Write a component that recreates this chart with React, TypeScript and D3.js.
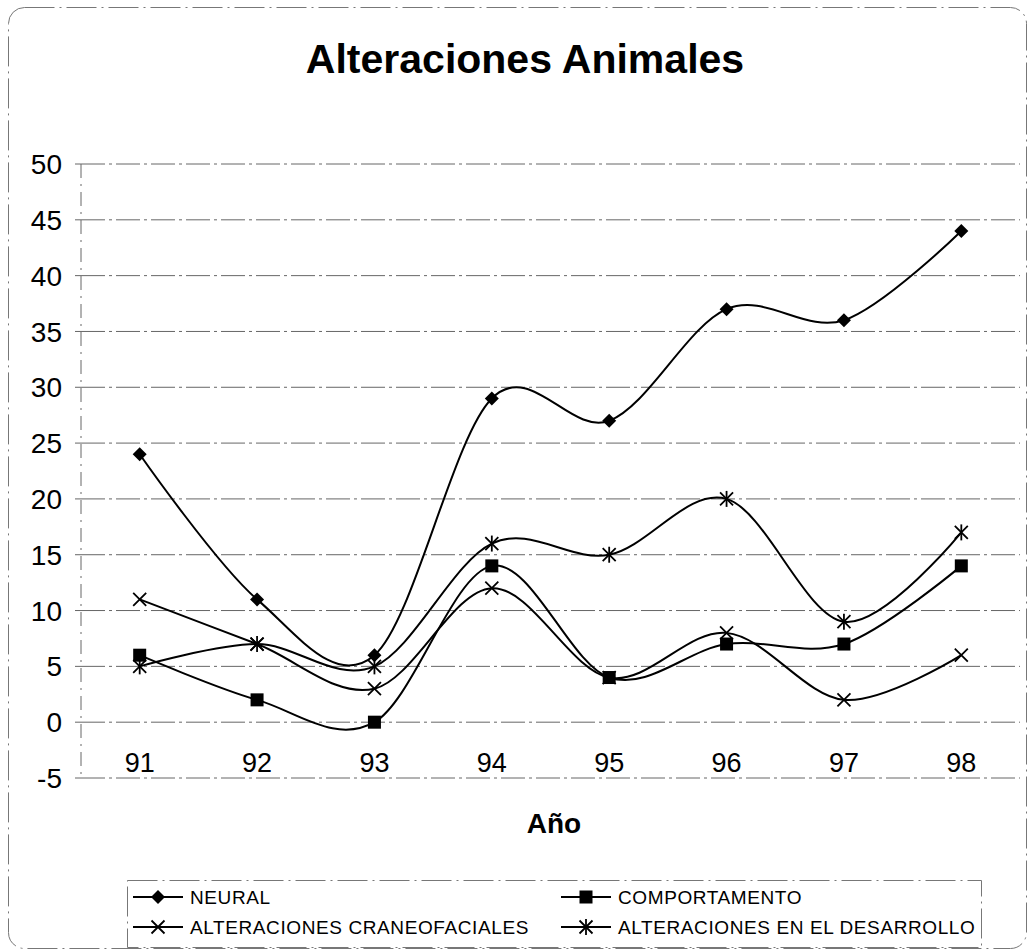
import { useEffect, useRef } from "react";
import * as d3 from "d3";

const years = ["91", "92", "93", "94", "95", "96", "97", "98"];
const neural = [24, 11, 6, 29, 27, 37, 36, 44];
const comportamento = [6, 2, 0, 14, 4, 7, 7, 14];
const craneofaciales = [11, 7, 3, 12, 4, 8, 2, 6];
const desarrollo = [5, 7, 5, 16, 15, 20, 9, 17];
const yTicks = [-5, 0, 5, 10, 15, 20, 25, 30, 35, 40, 45, 50];

const seriesNames = [
  "NEURAL",
  "COMPORTAMENTO",
  "ALTERACIONES CRANEOFACIALES",
  "ALTERACIONES EN EL DESARROLLO",
];
const seriesMarkers = ["diamond", "square", "cross", "star"];

const font = "'Liberation Sans', Arial, sans-serif";
const gridDash = "24 4 3 4";

const App = () => {
  const ref = useRef<SVGSVGElement>(null);

  useEffect(() => {
    const svg = d3.select(ref.current);
    svg.selectAll("*").remove();

    const x = d3.scalePoint().domain(years).range([81, 1020]).padding(0.5);
    const y = d3.scaleLinear().domain([-5, 50]).range([778, 164]);

    // outer frame
    svg
      .append("rect")
      .attr("x", 8.5)
      .attr("y", 7.5)
      .attr("width", 1018)
      .attr("height", 941)
      .attr("rx", 16)
      .attr("fill", "none")
      .attr("stroke", "#777")
      .attr("stroke-dasharray", "30 5 2 5");

    svg
      .append("text")
      .attr("x", 525)
      .attr("y", 73)
      .attr("text-anchor", "middle")
      .attr("font-family", font)
      .attr("font-weight", "bold")
      .attr("font-size", 41)
      .text("Alteraciones Animales");

    // gridlines
    yTicks.forEach((t) => {
      svg
        .append("line")
        .attr("x1", 81)
        .attr("x2", 1020)
        .attr("y1", y(t))
        .attr("y2", y(t))
        .attr("stroke", "#666")
        .attr("stroke-dasharray", gridDash);
      svg
        .append("line")
        .attr("x1", 75)
        .attr("x2", 81)
        .attr("y1", y(t))
        .attr("y2", y(t))
        .attr("stroke", "#666");
      svg
        .append("text")
        .attr("x", 62)
        .attr("y", y(t))
        .attr("dy", "0.36em")
        .attr("text-anchor", "end")
        .attr("font-family", font)
        .attr("font-size", 28)
        .text(t.toString());
    });

    // y axis
    svg
      .append("line")
      .attr("x1", 81)
      .attr("x2", 81)
      .attr("y1", y(50))
      .attr("y2", y(-5))
      .attr("stroke", "#666")
      .attr("stroke-dasharray", "14 6 2 6");

    years.forEach((yr) => {
      svg
        .append("text")
        .attr("x", x(yr))
        .attr("y", 772)
        .attr("text-anchor", "middle")
        .attr("font-family", font)
        .attr("font-size", 27)
        .text(yr);
    });

    svg
      .append("text")
      .attr("x", 554)
      .attr("y", 833)
      .attr("text-anchor", "middle")
      .attr("font-family", font)
      .attr("font-weight", "bold")
      .attr("font-size", 28)
      .text("Año");

    function drawMarker(g, type, cx, cy) {
      if (type === "diamond") {
        g.append("path")
          .attr("d", `M${cx},${cy - 7}L${cx + 7},${cy}L${cx},${cy + 7}L${cx - 7},${cy}Z`)
          .attr("fill", "black");
      } else if (type === "square") {
        g.append("rect")
          .attr("x", cx - 6.5)
          .attr("y", cy - 6.5)
          .attr("width", 13)
          .attr("height", 13)
          .attr("fill", "black");
      } else {
        const s = 6.5;
        g.append("path")
          .attr("d", `M${cx - s},${cy - s}L${cx + s},${cy + s}M${cx + s},${cy - s}L${cx - s},${cy + s}`)
          .attr("stroke", "black")
          .attr("stroke-width", 1.8);
        if (type === "star") {
          g.append("path")
            .attr("d", `M${cx},${cy - 8}L${cx},${cy + 8}`)
            .attr("stroke", "black")
            .attr("stroke-width", 1.8);
        }
      }
    }

    const line = d3
      .line<number>()
      .x((d, i) => x(years[i]))
      .y((d) => y(d))
      .curve(d3.curveCatmullRom.alpha(0));

    const allSeries = [neural, comportamento, craneofaciales, desarrollo];
    allSeries.forEach((values, si) => {
      const g = svg.append("g");
      g.append("path")
        .datum(values)
        .attr("d", line)
        .attr("fill", "none")
        .attr("stroke", "black")
        .attr("stroke-width", 2);
      values.forEach((v, i) => drawMarker(g, seriesMarkers[si], x(years[i]), y(v)));
    });

    // legend
    svg
      .append("rect")
      .attr("x", 127.5)
      .attr("y", 880.5)
      .attr("width", 854)
      .attr("height", 67)
      .attr("fill", "none")
      .attr("stroke", "#777")
      .attr("stroke-dasharray", "30 5 2 5");

    const legendPos = [
      { lx: 133, ty: 897 },
      { lx: 561, ty: 897 },
      { lx: 133, ty: 927 },
      { lx: 561, ty: 927 },
    ];
    seriesNames.forEach((name, i) => {
      const p = legendPos[i];
      const g = svg.append("g");
      g.append("line")
        .attr("x1", p.lx)
        .attr("x2", p.lx + 50)
        .attr("y1", p.ty)
        .attr("y2", p.ty)
        .attr("stroke", "black")
        .attr("stroke-width", 2);
      drawMarker(g, seriesMarkers[i], p.lx + 25, p.ty);
      g.append("text")
        .attr("x", p.lx + 57)
        .attr("y", p.ty)
        .attr("dy", "0.36em")
        .attr("font-family", font)
        .attr("font-size", 19)
        .attr("letter-spacing", 0.6)
        .text(name);
    });
  }, []);

  return (
    <svg
      ref={ref}
      width={1031}
      height={952}
      style={{ position: "absolute", left: 0, top: 0, background: "white" }}
    />
  );
};

export default App;
